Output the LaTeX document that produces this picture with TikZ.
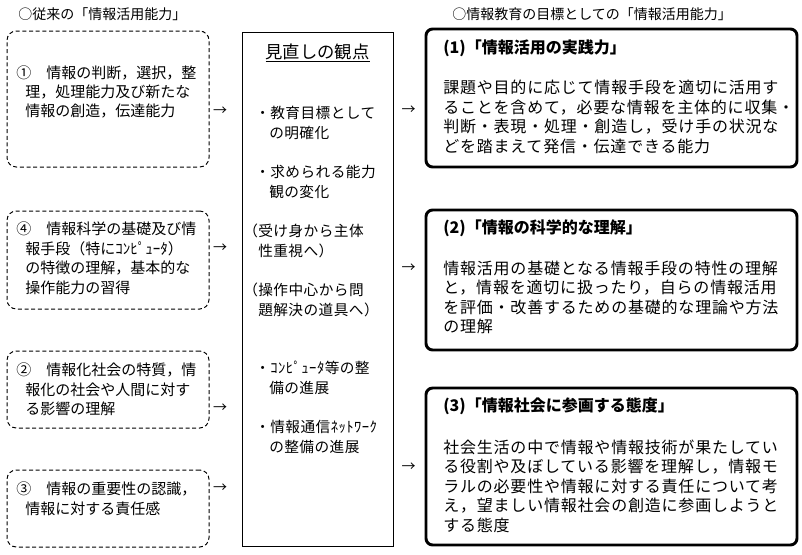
\documentclass[tikz,border=0pt]{standalone}
\usepackage{fontspec}
\setmainfont{Noto Sans CJK JP}
\begin{document}
\begin{tikzpicture}[x=0.75pt,y=-0.75pt,
  lbox/.style={draw, line width=0.75pt, dash pattern=on 3pt off 2pt, rounded corners=7pt, inner sep=0pt},
  mbox/.style={draw, line width=0.75pt, inner sep=0pt},
  rbox/.style={draw, line width=2.2pt, rounded corners=5pt, inner sep=0pt},
  lt/.style={anchor=west, inner sep=0pt, font=\fontsize{11.25}{13}\selectfont, text height=9.9pt, text depth=1.35pt},
  mt/.style={anchor=west, inner sep=0pt, font=\fontsize{11}{13}\selectfont\addfontfeatures{LetterSpace=3}, text height=9.7pt, text depth=1.3pt},
  rt/.style={anchor=west, inner sep=0pt, font=\fontsize{12}{14}\selectfont\addfontfeatures{LetterSpace=5}, text height=10.56pt, text depth=1.44pt},
  rh/.style={anchor=west, inner sep=0pt, font=\fontsize{12}{14}\selectfont\bfseries, text height=10.56pt, text depth=1.44pt},
  ttl/.style={anchor=west, inner sep=0pt, font=\fontsize{10.5}{12}\selectfont, text height=9.24pt, text depth=1.26pt},
  arr/.style={anchor=center, inner sep=0pt, font=\fontsize{10.5}{12}\selectfont}]
\useasboundingbox[fill=white] (0,0) rectangle (802,554);

% titles
\node[ttl] (t1) at (18,14) {○従来の「情報活用能力」};
\node[ttl] (t2) at (452,14) {○情報教育の目標としての「情報活用能力」};

% left dashed boxes
\node[lbox, minimum width=151.5pt, minimum height=102pt] (L1) at (108,99) {};
\node[lbox, minimum width=151.5pt, minimum height=73.5pt] (L4) at (108,260) {};
\node[lbox, minimum width=151.5pt, minimum height=57.75pt] (L2) at (108,389.5) {};
\node[lbox, minimum width=151.5pt, minimum height=57.75pt] (L3) at (108,508.5) {};

% middle box
\node[mbox, minimum width=113.25pt, minimum height=385.5pt] (M) at (317.5,289) {};

% right boxes
\node[rbox, minimum width=278.25pt, minimum height=103.5pt] (R1) at (611.5,98) {};
\node[rbox, minimum width=278.25pt, minimum height=105pt] (R2) at (611.5,280) {};
\node[rbox, minimum width=278.25pt, minimum height=117.75pt] (R3) at (611.5,466.5) {};

% left texts
\node[lt] (l1a) at (16,73) {①　情報の判断，選択，整};
\node[lt] (l1b) at (25,92) {理，処理能力及び新たな};
\node[lt] (l1c) at (25,111) {情報の創造，伝達能力};

\node[lt] (l4a) at (16,229) {④　情報科学の基礎及び情};
\node[lt] (l4b) at (25,248.5) {報手段（特にｺﾝﾋﾟｭｰﾀ）};
\node[lt] (l4c) at (25,268) {の特徴の理解，基本的な};
\node[lt] (l4d) at (25,287.5) {操作能力の習得};

\node[lt] (l2a) at (16,370) {②　情報化社会の特質，情};
\node[lt] (l2b) at (25,389.5) {報化の社会や人間に対す};
\node[lt] (l2c) at (25,409) {る影響の理解};

\node[lt] (l3a) at (16,489) {③　情報の重要性の認識，};
\node[lt] (l3b) at (25,508.5) {情報に対する責任感};

% left arrows
\node[arr] (a1) at (220,111) {→};
\node[arr] (a4) at (220,248.5) {→};
\node[arr] (a2) at (220,408) {→};
\node[arr] (a3) at (220,488) {→};

% middle texts
\node[anchor=center, inner sep=0pt, font=\fontsize{13}{15}\selectfont] (mh) at (317.5,53) {\underline{見直しの観点}};
\node[mt] (m1a) at (255,113) {・教育目標として};
\node[mt] (m1b) at (269,132.5) {の明確化};
\node[mt] (m2a) at (255,172) {・求められる能力};
\node[mt] (m2b) at (269,191.5) {観の変化};
\node[mt] (m3a) at (243,231) {（受け身から主体};
\node[mt] (m3b) at (258,250.5) {性重視へ）};
\node[mt] (m4a) at (243,290) {（操作中心から問};
\node[mt] (m4b) at (258,309.5) {題解決の道具へ）};
\node[mt] (m5a) at (255,368) {・ｺﾝﾋﾟｭｰﾀ等の整};
\node[mt] (m5b) at (269,387.5) {備の進展};
\node[mt] (m6a) at (255,427) {・情報通信ﾈｯﾄﾜｰｸ};
\node[mt] (m6b) at (269,446.5) {の整備の進展};

% right arrows
\node[arr] (b1) at (408.5,110) {→};
\node[arr] (b2) at (408.5,268) {→};
\node[arr] (b3) at (408.5,467) {→};

% right texts
\node[rh] (r1h) at (443,47) {(1)「情報活用の実践力」};
\node[rt] (r1a) at (443,87.5) {課題や目的に応じて情報手段を適切に活用す};
\node[rt] (r1b) at (443,107) {ることを含めて，必要な情報を主体的に収集・};
\node[rt] (r1c) at (443,126.5) {判断・表現・処理・創造し，受け手の状況な};
\node[rt] (r1d) at (443,146) {どを踏まえて発信・伝達できる能力};

\node[rh] (r2h) at (443,227) {(2)「情報の科学的な理解」};
\node[rt] (r2a) at (443,268) {情報活用の基礎となる情報手段の特性の理解};
\node[rt] (r2b) at (443,287.5) {と，情報を適切に扱ったり，自らの情報活用};
\node[rt] (r2c) at (443,307) {を評価・改善するための基礎的な理論や方法};
\node[rt] (r2d) at (443,326.5) {の理解};

\node[rh] (r3h) at (443,405) {(3)「情報社会に参画する態度」};
\node[rt] (r3a) at (443,447) {社会生活の中で情報や情報技術が果たしてい};
\node[rt] (r3b) at (443,466.5) {る役割や及ぼしている影響を理解し，情報モ};
\node[rt] (r3c) at (443,486) {ラルの必要性や情報に対する責任について考};
\node[rt] (r3d) at (443,505.5) {え，望ましい情報社会の創造に参画しようと};
\node[rt] (r3e) at (443,525) {する態度};
\end{tikzpicture}
\end{document}
